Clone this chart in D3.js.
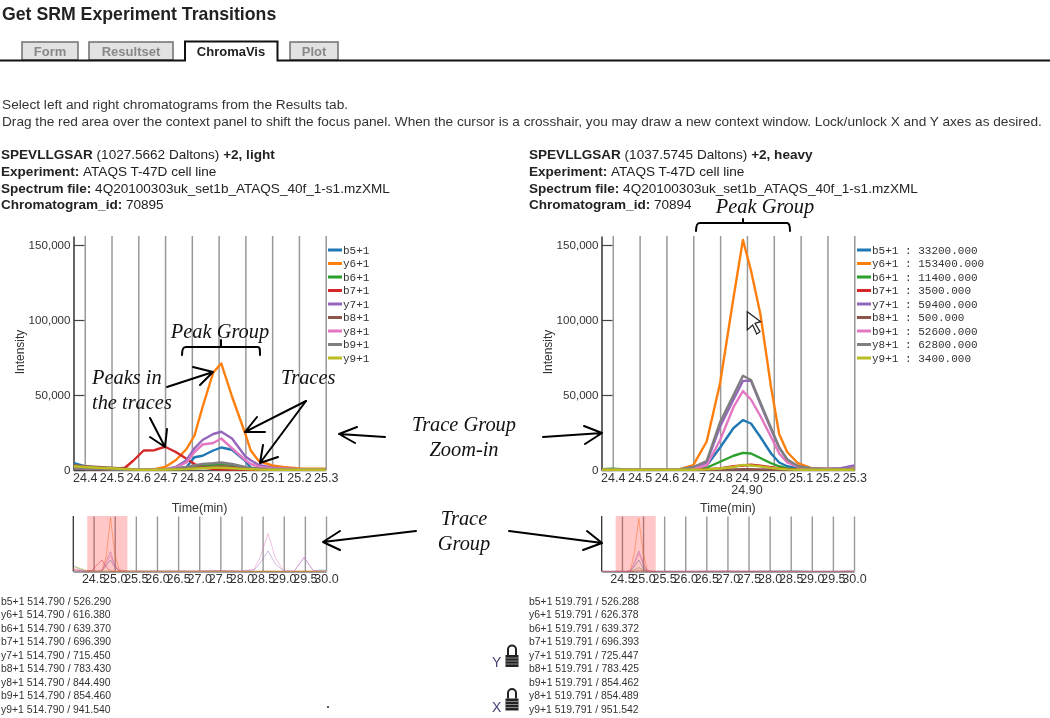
<!DOCTYPE html>
<html>
<head>
<meta charset="utf-8">
<script src="https://cdn.jsdelivr.net/npm/d3@7"></script>
<style>
html,body{margin:0;padding:0;background:#fff}
svg{display:block;filter:blur(0.4px)}
text{font-family:"Liberation Sans",Arial,sans-serif;fill:#222}
.mono{font-family:"Liberation Mono",monospace;font-size:11px;fill:#333}
.note{font-family:"Liberation Serif",serif;font-style:italic;font-size:20.4px;fill:#111}
.axis text{font-size:12.5px;fill:#333}
.yaxis text{font-size:11.6px;fill:#333}
</style>
</head>
<body>
<svg id="chart" width="1050" height="718"></svg>
<script>
// ---------- data (intensity in thousands) ----------
const transitionsLeft = ["b5+1","y6+1","b6+1","b7+1","y7+1","b8+1","y8+1","b9+1","y9+1"];
const transitionsRight = ["b5+1","y6+1","b6+1","b7+1","y7+1","b8+1","b9+1","y8+1","y9+1"];
const traceColors = ["#1f77b4","#ff7f0e","#2ca02c","#d62728","#9467bd","#8c564b","#e377c2","#7f7f7f","#bcbd22"];
const xTicksFocus = [24.4,24.5,24.6,24.7,24.8,24.9,25.0,25.1,25.2,25.3];
const xTicksContext = [24.5,25,25.5,26,26.5,27,27.5,28,28.5,29,29.5,30];
const yTicks = [0,50,100,150];

const timesLeft = [24.36,24.40,24.45,24.50,24.55,24.58,24.62,24.66,24.70,24.74,24.78,24.81,24.84,24.88,24.91,24.95,25.00,25.02,25.05,25.10,25.14,25.20,25.30];
const leftB5 = [4.5,2.5,1.5,1,0.6,0.3,0.2,0.2,0.3,0.6,2,8.5,9.5,13,15,13.5,6,1.5,1,0.8,0.5,0.4,0.3];
const leftY6 = [3,2,1.5,1,0.8,0.5,0.4,0.5,2,6.5,14,23,42,65,71,49,24,13,6,3,2,1,0.8];
const leftB6 = [1.5,1.2,0.8,0.5,0.3,0.3,0.2,0.2,0.3,0.5,1,2,3,3.5,4,3.5,1.5,1,0.8,0.5,0.3,0.2,0.2];
const leftB7 = [1,0.8,0.6,0.5,1.5,6,13,13.2,15.5,12,7.5,4,1.8,0.7,0.4,0.3,0.3,0.2,0.2,0.2,0.2,0.2,0.2];
const leftY7 = [2,2,1.5,1,0.6,0.4,0.3,0.5,0.6,2,6.5,14.5,20,24,25.5,21,9,6.5,3.3,1.5,1,0.6,0.5];
const leftB8 = [3,2.5,2,1.5,0.8,0.4,0.3,0.3,0.4,0.5,1,1.5,2,2.2,2.5,2,1,0.8,0.5,0.4,0.3,0.3,0.2];
const leftY8 = [1.5,1,1,0.6,0.4,0.3,0.3,0.4,0.5,1.5,5,12,17,18,21,14.5,6.5,4,2.2,1,0.8,0.5,0.4];
const leftB9 = [1,1,0.8,0.5,0.3,0.3,0.2,0.2,0.4,1,2,3,4,4.5,5,4,2,1,0.8,0.5,0.3,0.2,0.2];
const leftY9 = [2.5,2,1.5,1.2,0.6,0.3,0.2,0.2,0.3,0.4,0.6,1,1.2,1.5,1.5,1.2,0.6,0.5,0.3,0.2,0.2,0.2,0.2];
const seriesLeft = [leftB5,leftY6,leftB6,leftB7,leftY7,leftB8,leftY8,leftB9,leftY9];

const timesRight = [24.36,24.40,24.45,24.50,24.55,24.60,24.65,24.70,24.75,24.80,24.85,24.885,24.915,24.95,24.99,25.02,25.05,25.09,25.14,25.20,25.25,25.30];
const rightB5 = [0.3,0.3,0.2,0.2,0.2,0.2,0.2,0.5,3,15,28,33.2,31,22,11,5,2.5,1,0.5,0.3,0.3,0.3];
const rightY6 = [0.5,0.6,0.3,0.3,0.3,0.5,0.5,3.3,19,58,115,153.4,133,104,55,24,12,4.5,1.2,0.8,0.8,1];
const rightB6 = [0.5,0.8,0.3,0.3,0.3,0.3,0.3,0.3,1.5,5.5,9.5,11.4,11,8,4.5,2.5,1,0.4,0.3,0.2,0.2,0.2];
const rightB7 = [0.2,0.2,0.2,0.2,0.2,0.2,0.2,0.3,0.5,1,2.5,3,3.5,2.8,1.8,1,0.5,0.3,0.2,0.2,0.2,0.2];
const rightY7 = [0.4,0.4,0.3,0.3,0.3,0.3,0.4,1.8,5,29,47,59.4,59.5,44,27,15,7,2.5,1,0.8,1.2,3];
const rightB8 = [0.2,0.2,0.2,0.2,0.2,0.2,0.2,0.2,0.2,0.3,0.4,0.5,0.5,0.4,0.3,0.2,0.2,0.2,0.2,0.2,0.2,0.2];
const rightB9 = [0.4,0.4,0.3,0.3,0.3,0.3,0.4,1,3,20,42,52.6,47,36,22,11,5,2,0.8,0.5,0.5,0.5];
const rightY8 = [0.5,0.5,0.3,0.3,0.3,0.3,0.4,2,6,32,50,62.8,60,45,28,15,7,2.5,1,0.5,0.5,0.8];
const rightY9 = [0.2,0.2,0.2,0.2,0.2,0.2,0.2,0.2,0.4,1,2,3.4,3,2.4,1.4,0.8,0.4,0.2,0.2,0.2,0.2,0.2];
const seriesRight = [rightB5,rightY6,rightB6,rightB7,rightY7,rightB8,rightB9,rightY8,rightY9];

const legendValuesRight = ["33200.000","153400.000","11400.000","3500.000","59400.000","500.000","52600.000","62800.000","3400.000"];

const contextTimes = [24.02,24.1,24.2,24.3,24.45,24.6,24.7,24.8,24.9,25.0,25.1,25.2,25.5,26,27,27.4,28,28.3,28.45,28.63,28.8,29,29.25,29.48,29.7,29.85,30];
const ctxLeftB5 = [8,5,3,1,0.5,0.2,0.3,8,15,6,1,0.4,0.4,0.8,0.3,0.2,0.2,0.2,0.2,0.3,0.2,0.2,0.2,0.3,0.3,2,1.5];
const ctxLeftY6 = [4,3,2,1,1,0.5,2,20,71,24,3,1,0.5,0.3,0.2,0.5,0.3,0.2,0.3,0.4,0.3,0.2,0.2,0.4,0.3,0.3,0.2];
const ctxLeftB7 = [1,1,0.8,0.5,0.6,10,15,6,0.5,0.3,0.2,0.2,0.2,0.2,0.5,1,0.3,0.2,0.2,0.2,0.2,0.2,0.2,0.2,0.2,0.2,0.2];
const ctxLeftY7 = [2,2,1,1,0.5,0.3,1,14,26,9,1,0.5,0.3,0.3,0.3,1,0.4,2,12,27,10,0.6,0.5,18,1,0.5,0.3];
const ctxLeftY8 = [3,2,1.5,1,0.5,0.3,1,10,21,7,1,0.5,0.3,0.3,0.3,1,0.5,3,20,50,18,1,0.5,19,1,0.5,0.3];
const ctxLeftY9 = [6,6,4,2,0.8,0.2,0.3,1,1.5,0.6,0.2,0.2,0.2,0.2,0.2,0.2,0.2,0.2,0.2,0.2,0.2,0.2,0.2,0.2,0.2,0.5,0.4];
const ctxRightB5 = [0.3,0.3,0.3,0.3,0.3,0.2,0.5,15,33,11,1,0.3,0.3,0.3,0.8,0.2,0.3,0.5,1,1.5,0.8,0.3,0.3,0.3,0.3,0.5,0.3];
const ctxRightY6 = [0.5,0.5,0.4,0.4,0.4,0.4,3,58,153,55,4.5,0.8,0.5,0.8,1.5,0.5,0.8,0.8,0.5,0.5,0.5,0.4,0.6,0.4,0.8,1.5,1];
const ctxRightB6 = [0.3,0.3,0.3,0.3,0.3,0.3,0.3,5,11,4.5,0.4,0.2,0.2,0.2,0.3,0.2,1,1.5,1.5,1.5,1,0.2,0.2,0.2,0.2,0.2,0.2];
const ctxRightB7 = [0.2,0.2,0.2,0.2,0.2,0.2,0.3,1,3.5,1.8,0.2,0.2,0.2,0.2,0.5,0.2,0.2,0.2,0.2,0.2,0.2,0.2,0.2,0.2,0.2,0.2,0.2];
const ctxRightY7 = [0.4,0.4,0.3,0.3,0.3,0.3,1.8,29,59,27,1,0.8,0.4,0.4,0.6,0.5,1,0.6,0.5,0.5,0.5,0.4,0.8,0.4,0.8,1.8,1.5];
const ctxRightB9 = [0.4,0.4,0.3,0.3,0.3,0.3,1,20,52,22,0.8,0.5,0.4,0.4,0.5,1.4,0.5,0.4,0.4,0.4,0.4,0.4,0.4,0.4,0.4,0.5,0.4];
const contextLeft = [[ctxLeftB5,0],[ctxLeftY6,1],[ctxLeftB7,3],[ctxLeftY7,4],[ctxLeftY8,6],[ctxLeftY9,8]];
const contextRight = [[ctxRightB5,0],[ctxRightY6,1],[ctxRightB6,2],[ctxRightB7,3],[ctxRightY7,4],[ctxRightB9,6]];
const contextWindow = [24.35,25.3];

const listLeft = ["b5+1 514.790 / 526.290","y6+1 514.790 / 616.380","b6+1 514.790 / 639.370","b7+1 514.790 / 696.390","y7+1 514.790 / 715.450","b8+1 514.790 / 783.430","y8+1 514.790 / 844.490","b9+1 514.790 / 854.460","y9+1 514.790 / 941.540"];
const listRight = ["b5+1 519.791 / 526.288","y6+1 519.791 / 626.378","b6+1 519.791 / 639.372","b7+1 519.791 / 696.393","y7+1 519.791 / 725.447","b8+1 519.791 / 783.425","b9+1 519.791 / 854.462","y8+1 519.791 / 854.489","y9+1 519.791 / 951.542"];

// ---------- drawing ----------
const svg = d3.select("#chart");
const fmtK = d => d3.format(",")(d*1000);

function txt(x,y,s,o={}){
  const t = svg.append("text").attr("x",x).attr("y",y).text(s);
  if(o.size) t.style("font-size",o.size+"px");
  if(o.bold) t.style("font-weight","bold");
  if(o.fill) t.style("fill",o.fill);
  if(o.anchor) t.attr("text-anchor",o.anchor);
  if(o.cls) t.attr("class",o.cls);
  return t;
}

// header and tabs
txt(2,20,"Get SRM Experiment Transitions",{size:17.7,bold:true,fill:"#222"});
[[22,78,"Form"],[89,173,"Resultset"],[290,338,"Plot"]].forEach(([a,b,s])=>{
  svg.append("rect").attr("x",a).attr("y",42).attr("width",b-a).attr("height",18)
    .attr("fill","#e2e2e2").attr("stroke","#777").attr("stroke-width",1.6);
  txt((a+b)/2,56,s,{size:13,bold:true,fill:"#888",anchor:"middle"});
});
svg.append("path").attr("d","M0 60.5H185V41.5H277.5V60.5H1050").attr("fill","none").attr("stroke","#111").attr("stroke-width",2);
txt(231,56,"ChromaVis",{size:13,bold:true,fill:"#222",anchor:"middle"});
txt(2,109,"Select left and right chromatograms from the Results tab.",{size:13.7,fill:"#333"});
txt(2,126,"Drag the red area over the context panel to shift the focus panel. When the cursor is a crosshair, you may draw a new context window. Lock/unlock X and Y axes as desired.",{size:13.65,fill:"#333"});

function meta(x,pep,dalton,charge,file,id){
  const t = svg.append("text").attr("x",x).attr("y",159).style("font-size","13.55px");
  t.append("tspan").style("font-weight","bold").text(pep);
  t.append("tspan").text(" ("+dalton+" Daltons) ");
  t.append("tspan").style("font-weight","bold").text(charge);
  [[176,"Experiment: ","ATAQS T-47D cell line"],[192.5,"Spectrum file: ",file],[209,"Chromatogram_id: ",id]].forEach(([y,a,b])=>{
    const l = svg.append("text").attr("x",x).attr("y",y).style("font-size","13.55px");
    l.append("tspan").style("font-weight","bold").text(a);
    l.append("tspan").text(b);
  });
}
meta(1,"SPEVLLGSAR","1027.5662","+2, light","4Q20100303uk_set1b_ATAQS_40f_1-s1.mzXML","70895");
meta(529,"SPEVLLGSAR","1037.5745","+2, heavy","4Q20100303uk_set1b_ATAQS_40f_1-s1.mzXML","70894");

function focusPanel(x0,x1,times,series,names,legendX,legendVals){
  const x = d3.scaleLinear().domain([24.358,25.3]).range([x0,x1]);
  const y = d3.scaleLinear().domain([0,156]).range([470,236]);
  const ax = svg.append("g").attr("class","axis").attr("transform","translate(0,470)")
    .call(d3.axisBottom(x).tickValues(xTicksFocus).tickFormat(d3.format(".1f")).tickSizeInner(-234).tickSizeOuter(0).tickPadding(3));
  ax.selectAll(".tick line").attr("stroke","#999").attr("stroke-width",1.5);
  ax.select(".domain").attr("stroke","#555").attr("stroke-width",1.5);
  const ay = svg.append("g").attr("class","yaxis").attr("transform","translate("+x0+",0)")
    .call(d3.axisLeft(y).tickValues(yTicks).tickFormat(fmtK).tickSizeInner(-11).tickSizeOuter(0).tickPadding(3));
  ay.selectAll(".tick line").attr("stroke","#444").attr("stroke-width",1.2);
  ay.select(".domain").attr("stroke","#333").attr("stroke-width",1.5);
  const line = d3.line().x((d,i)=>x(times[i])).y(d=>y(d)).curve(d3.curveLinear);
  svg.append("g").selectAll("path").data(series).join("path")
    .attr("d",line).attr("fill","none").attr("stroke",(d,i)=>traceColors[i])
    .attr("stroke-width",2.4).attr("stroke-linejoin","round");
  svg.append("text").attr("transform","translate("+(x0-50)+",352) rotate(-90)")
    .attr("text-anchor","middle").style("font-size","12px").style("fill","#333").text("Intensity");
  txt((x0+x1)/2,512,"Time(min)",{size:12.5,fill:"#333",anchor:"middle"});
  const rowY = d3.scalePoint().domain(d3.range(names.length)).range([250,358]);
  names.forEach((n,i)=>{
    svg.append("line").attr("x1",legendX).attr("x2",legendX+14).attr("y1",rowY(i)).attr("y2",rowY(i))
      .attr("stroke",traceColors[i]).attr("stroke-width",3);
    txt(legendX+15,rowY(i)+3.5,legendVals?n+" : "+legendVals[i]:n,{cls:"mono"});
  });
  return x;
}
focusPanel(73.5,325.7,timesLeft,seriesLeft,transitionsLeft,328,null);
const xRight = focusPanel(601.5,854.3,timesRight,seriesRight,transitionsRight,857,legendValuesRight);
txt(xRight(24.9),494,"24.90",{size:12.5,fill:"#333",anchor:"middle"});

function contextPanel(x0,x1,series,yMax){
  const x = d3.scaleLinear().domain([24.02,30]).range([x0,x1]);
  const y = d3.scaleLinear().domain([0,yMax]).range([571.5,516]);
  const ax = svg.append("g").attr("class","axis").attr("transform","translate(0,571.5)")
    .call(d3.axisBottom(x).tickValues(xTicksContext).tickFormat(d3.format(".1f")).tickSizeInner(-55).tickSizeOuter(0).tickPadding(3));
  ax.selectAll(".tick line").attr("stroke","#999").attr("stroke-width",1.4);
  ax.select(".domain").attr("stroke","#444").attr("stroke-width",1.2);
  svg.append("line").attr("x1",x0).attr("x2",x0).attr("y1",516).attr("y2",571.5).attr("stroke","#333").attr("stroke-width",1.3);
  const line = d3.line().x((d,i)=>x(contextTimes[i])).y(d=>y(d));
  svg.append("g").selectAll("path").data(series).join("path")
    .attr("d",d=>line(d[0])).attr("fill","none").attr("stroke",d=>traceColors[d[1]])
    .attr("stroke-width",1).attr("opacity",0.45);
  svg.append("rect").attr("x",x(contextWindow[0])).attr("y",516)
    .attr("width",x(contextWindow[1])-x(contextWindow[0])).attr("height",55.5)
    .attr("fill","#ff0000").attr("opacity",0.22);
}
contextPanel(73.3,326,contextLeft,73);
contextPanel(601.7,854,contextRight,160);

function lister(x,rows){
  const ry = d3.scalePoint().domain(d3.range(rows.length)).range([605,712.5]);
  rows.forEach((r,i)=>txt(x,ry(i),r,{size:10.4,fill:"#333"}));
}
lister(1,listLeft);
lister(529,listRight);

// locks
function lock(x,top,label,ly){
  svg.append("path").attr("d",`M${x+2.5} ${top+10}V${top+4.5}a4 4 0 0 1 8 0V${top+10}`).attr("fill","none").attr("stroke","#222").attr("stroke-width",2);
  svg.append("rect").attr("x",x).attr("y",top+10).attr("width",13).attr("height",12).attr("fill","#222");
  d3.range(3).forEach(i=>svg.append("line").attr("x1",x).attr("x2",x+13).attr("y1",top+13+i*3).attr("y2",top+13+i*3).attr("stroke","#aaa").attr("stroke-width",0.8));
  txt(492,ly,label,{size:14,fill:"#447"});
}
lock(505.5,645,"Y",667);
lock(505.5,688.5,"X",712);
svg.append("circle").attr("cx",328).attr("cy",707).attr("r",1).attr("fill","#222");

// mouse cursor
svg.append("path").attr("d","M747.3 311.7V330L752.7 325L756.7 334L760 331.7L755 323.3L760.7 321.7Z").attr("fill","#fff").attr("stroke","#222").attr("stroke-width",1.2);

// hand annotations
const ink = svg.append("g").attr("fill","none").attr("stroke","#000").attr("stroke-width",2).attr("stroke-linecap","round").attr("stroke-linejoin","round");
[
 "M182 355C182 349 183 347 186 347H258C260 347 260 349 260 355M221 347V340",
 "M696 231C696 225 697 223 700 223H787C789 223 790 225 790 231M743 223V219",
 "M167 387L213 372M193 367L213 372L200 385",
 "M150 418L165 447M150 437L165 447L167 429",
 "M306 401L245 432M257 417L245 432L265 432",
 "M306 401L260 463M263 445L260 463L278 457",
 "M385 437L339 434M357 427L339 434L355 443",
 "M543 437L602 433M584 426L602 433L585 444",
 "M416 531L323 542M340 531L323 542L340 550",
 "M509 531L602 543M587 531L602 543L583 550"
].forEach(d=>ink.append("path").attr("d",d));
[[220,338,"Peak Group"],[765,213,"Peak Group"],[464,431,"Trace Group"],[464,456,"Zoom-in"],[464,525,"Trace"],[464,550,"Group"]]
 .forEach(([x,y,s])=>txt(x,y,s,{cls:"note",anchor:"middle"}));
[[92,384,"Peaks in"],[92,409,"the traces"],[281,384,"Traces"]].forEach(([x,y,s])=>txt(x,y,s,{cls:"note"}));
</script>
</body>
</html>
